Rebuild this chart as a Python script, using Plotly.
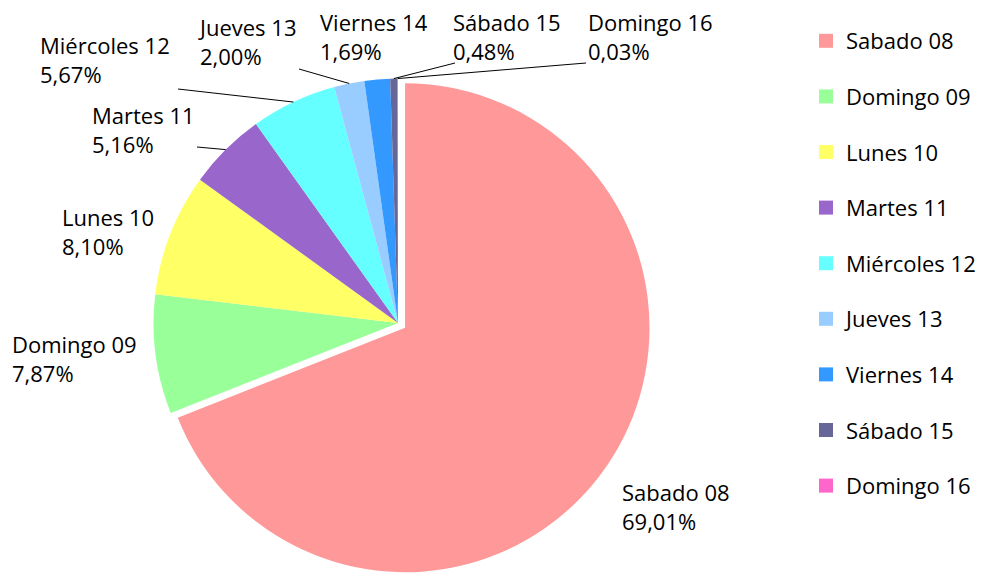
import math
import plotly.graph_objects as go

# ---- data ----
labels = ["Sabado 08", "Domingo 09", "Lunes 10", "Martes 11", "Miércoles 12",
          "Jueves 13", "Viernes 14", "Sábado 15", "Domingo 16"]
values = [69.01, 7.87, 8.10, 5.16, 5.67, 2.00, 1.69, 0.48, 0.03]
colors = ["#FF9999", "#99FF99", "#FFFF66", "#9966CC", "#66FFFF",
          "#99CCFF", "#3399FF", "#666699", "#FF66CC"]
pulls = [0.035, 0, 0, 0, 0, 0, 0, 0, 0]

# ---- layout constants (pixels) ----
W, H = 986, 576
FONT = "Open Sans"
FS = 22
dom_x = [145 / W, 651 / W]
dom_y = [0.0, 506 / H]

# label block anchor (left x, vertical middle y) in pixels
label_pos = [(620, 506), (10, 358), (60, 231), (90, 129), (38, 60),
             (196, 41), (318, 36), (451, 36), (586, 36)]
# leader line start point near label (None = no line)
leader_from = [None, None, None, (197, 147), (178, 89), (299, 69),
               None, (455, 63), (586, 63)]


def to_paper(x, y):
    return x / W, 1 - y / H


fig = go.Figure()
fig.add_trace(go.Pie(
    labels=labels, values=values, sort=False, direction="clockwise",
    rotation=0, pull=pulls, textinfo="none", showlegend=False,
    marker=dict(colors=colors, line=dict(width=0)),
    domain=dict(x=dom_x, y=dom_y), hoverinfo="label+value",
))

# legend via marker-only entries
for lab, col in zip(labels, colors):
    fig.add_trace(go.Scatter(
        x=[None], y=[None], mode="markers", name=lab, legendgroup=lab,
        marker=dict(symbol="square", size=14, color=col),
        showlegend=True, hoverinfo="skip",
    ))

# pie geometry (as plotly computes it)
cx = (dom_x[0] + dom_x[1]) / 2 * W
cy = H - (dom_y[0] + dom_y[1]) / 2 * H
r = min((dom_x[1] - dom_x[0]) * W, (dom_y[1] - dom_y[0]) * H) / 2 / (1 + max(pulls))

total = sum(values)
annotations = []
shapes = []
cum = 0.0
for lab, v, (lx, ly), lf in zip(labels, values, label_pos, leader_from):
    mid = (cum + v / 2) / total * 2 * math.pi
    cum += v
    txt = f"{lab}<br>{v:.2f}".replace(".", ",") + "%"
    ax, ay = to_paper(lx, ly)
    annotations.append(dict(
        x=ax, y=ay, xref="paper", yref="paper", xanchor="left", yanchor="middle",
        text=txt, showarrow=False, align="left",
        font=dict(family=FONT, size=FS, color="#000000"),
    ))
    if lf is not None:
        ex = cx + r * math.sin(mid)
        ey = cy - r * math.cos(mid)
        x0, y0 = to_paper(*lf)
        x1, y1 = to_paper(ex, ey)
        shapes.append(dict(type="line", xref="paper", yref="paper",
                           x0=x0, y0=y0, x1=x1, y1=y1,
                           line=dict(color="#000000", width=1)))

fig.update_layout(
    width=W, height=H,
    margin=dict(l=0, r=0, t=0, b=0),
    paper_bgcolor="white", plot_bgcolor="white",
    font=dict(family=FONT, size=FS, color="#000000"),
    xaxis=dict(visible=False), yaxis=dict(visible=False),
    showlegend=True,
    legend=dict(x=806 / W, y=1 - 20 / H, xanchor="left", yanchor="top",
                tracegroupgap=24, itemsizing="trace",
                font=dict(family=FONT, size=FS, color="#000000"),
                bgcolor="rgba(0,0,0,0)"),
    annotations=annotations, shapes=shapes,
)

fig.write_html("out.html",
               config={"displayModeBar": False},
               post_script="document.body.style.margin='0px';")
